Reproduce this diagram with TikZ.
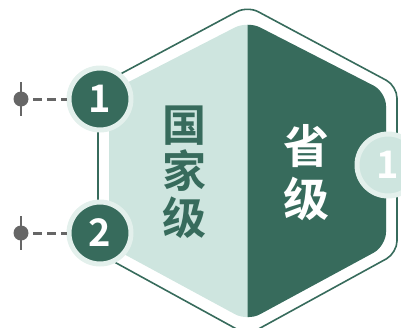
\documentclass[tikz,border=0pt]{standalone}
\usepackage{fontspec}
\newfontfamily\cjk{Noto Sans CJK SC}[BoldFont={Noto Sans CJK SC Bold}]
\definecolor{hexDark}{HTML}{376B5C}
\definecolor{hexLight}{HTML}{CEE5DF}
\definecolor{ringLight}{HTML}{E3F0EC}
\definecolor{pinGray}{HTML}{666666}
\begin{document}
\begin{tikzpicture}
[x=1pt,y=-1pt,%
  hexOutline/.style={draw=hexDark,line width=1.6pt,rounded corners=12pt},%
  badgeDecorate/.style={shape=circle,inner sep=0pt,minimum size=62pt,
    draw=ringLight,line width=5pt,text=white,font=\cjk\bfseries\fontsize{38}{38}\selectfont},%
  pinDecorate/.style={shape=circle,inner sep=0pt,minimum size=15pt,fill=pinGray},%
  dashDecorate/.style={pinGray,line width=3pt,dash pattern=on 9pt off 5pt,shorten <=12pt}]
\useasboundingbox (0,0) rectangle (401,327);
\clip (0,0) rectangle (401,327);
%% outer frame
\draw[hexOutline] (98,86) -- (247.5,6) -- (397,86) -- (397,253)
  -- (247.5,335) -- (98,253) -- cycle;
%% inner body, light left and dark right
\fill[hexLight,rounded corners=14pt] (247.5,21) -- (386,92) -- (386,246)
  -- (247.5,321) -- (109,246) -- (109,92) -- cycle;
\begin{scope}
  \clip (247.5,0) rectangle (401,340);
  \fill[hexDark,rounded corners=14pt] (247.5,21) -- (386,92) -- (386,246)
    -- (247.5,321) -- (109,246) -- (109,92) -- cycle;
\end{scope}
%% titles
\node[text=hexDark,align=center,font=\cjk\bfseries\fontsize{44}{46.5}\selectfont]
  (national) at (184,172) {国\\家\\级};
\node[text=white,align=center,font=\cjk\bfseries\fontsize{46}{53}\selectfont]
  (province) at (306.5,173) {省\\级};
%% badges and pins
\foreach \nodename/\y/\label in {b1/99/1, b2/233/2}
{
  \node (\nodename) at (100,\y) [badgeDecorate,fill=hexDark] {\label};
  \node (p\nodename) at (21,\y) [pinDecorate] {};
  \draw[pinGray,line width=2.2pt] (p\nodename.center) ++(0,-17) -- ++(0,34);
  \draw[dashDecorate] (p\nodename.center) -- (\nodename);
}
\node (b3) at (388,165) [badgeDecorate,fill=hexLight] {1};
\end{tikzpicture}
\end{document}
